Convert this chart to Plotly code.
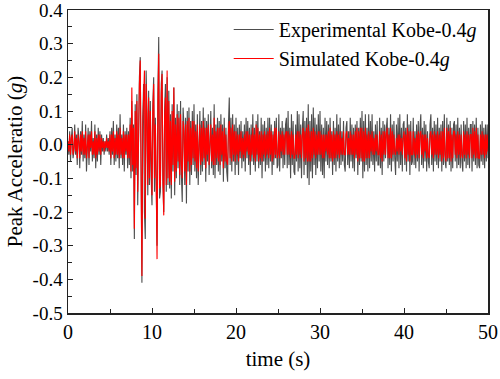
import plotly.graph_objects as go

dt = 0.1  # sampling step (s)

experimental = [
    0.01, -0.03, 0.04, -0.05, 0.02, 0.05, -0.04, -0.02, 0.06, -0.03,
    0.03, -0.06, 0.05, 0.02, -0.07, 0.04, -0.03, 0.07, -0.05, 0.03,
    -0.04, 0.06, -0.08, 0.03, 0.05, -0.06, 0.04, -0.02, 0.07, -0.05,
    0.02, -0.04, 0.06, -0.07, 0.03, -0.05, 0.05, -0.03, 0.04, -0.06,
    0.03, -0.02, 0.02, -0.03, 0.01, -0.02, 0.03, -0.02, 0.02, -0.03,
    0.04, -0.06, 0.05, -0.03, 0.07, -0.06, 0.03, -0.05, 0.06, -0.04,
    0.05, -0.07, 0.09, -0.04, 0.03, -0.06, 0.06, -0.08, 0.04, -0.03,
    0.05, -0.07, 0.04, -0.06, 0.08, -0.10, 0.13, -0.08, 0.06, -0.28,
    0.12, -0.09, 0.15, -0.18, 0.10, 0.20, 0.26, -0.15, -0.41, 0.08,
    0.18, -0.20, -0.28, 0.22, 0.10, -0.15, 0.16, -0.12, 0.13, -0.10,
    -0.18, 0.12, 0.20, -0.14, 0.08, -0.12, -0.30, 0.15, 0.32, -0.16,
    -0.14, 0.18, 0.22, -0.12, -0.20, 0.10, 0.18, -0.14, 0.20, -0.12,
    0.16, -0.13, 0.09, -0.16, 0.12, -0.08, 0.17, -0.15, 0.08, -0.10,
    0.12, -0.07, 0.10, -0.12, 0.13, -0.09, -0.17, 0.11, 0.06, -0.12,
    0.08, -0.175, 0.10, -0.08, 0.11, -0.12, 0.07, -0.09, 0.10, -0.06,
    0.12, -0.08, 0.06, -0.10, 0.09, -0.12, 0.05, 0.10, -0.09, 0.07,
    -0.08, 0.11, -0.06, 0.08, -0.11, 0.07, -0.05, 0.09, -0.09, 0.06,
    0.10, -0.07, 0.05, -0.09, 0.12, -0.10, 0.06, -0.06, 0.08, -0.08,
    0.07, -0.09, 0.09, -0.05, 0.06, -0.11, 0.08, -0.07, 0.05, -0.08,
    -0.11, 0.06, 0.14, -0.06, 0.08, -0.08, 0.09, -0.05, 0.06, -0.09,
    0.08, -0.06, 0.05, -0.09, 0.06, -0.04, 0.07, -0.07, 0.04, -0.05,
    0.06, -0.08, 0.08, -0.04, 0.07, -0.06, 0.05, -0.09, 0.06, -0.05,
    0.09, -0.06, 0.05, -0.08, 0.07, -0.05, 0.09, -0.07, 0.04, -0.06,
    0.08, -0.10, 0.06, -0.05, 0.07, -0.08, 0.05, -0.06, 0.08, -0.07,
    0.08, -0.05, 0.06, -0.09, 0.04, -0.06, 0.07, -0.04, 0.08, -0.07,
    -0.06, 0.09, -0.08, 0.05, -0.04, 0.07, -0.07, 0.05, -0.06, 0.06,
    0.08, -0.07, 0.10, -0.06, 0.05, -0.10, 0.09, -0.06, 0.07, -0.08,
    -0.09, 0.06, -0.05, 0.10, -0.08, 0.09, -0.07, 0.06, -0.10, 0.05,
    0.10, -0.09, 0.07, -0.06, 0.08, -0.10, 0.12, -0.12, 0.07, -0.08,
    0.09, -0.10, 0.11, -0.06, 0.08, -0.09, 0.06, -0.07, 0.09, -0.05,
    0.10, -0.08, 0.06, -0.09, 0.05, -0.10, 0.08, -0.05, 0.07, -0.06,
    0.06, -0.07, 0.08, -0.05, 0.04, -0.09, 0.07, -0.06, 0.05, -0.08,
    0.09, -0.05, 0.06, -0.07, 0.08, -0.06, 0.04, -0.05, 0.07, -0.06,
    -0.08, 0.05, 0.07, -0.06, 0.04, -0.07, 0.08, -0.05, 0.06, -0.07,
    0.05, -0.08, 0.06, -0.04, 0.07, -0.09, 0.05, -0.06, 0.08, -0.05,
    0.10, -0.10, 0.07, -0.08, 0.09, -0.06, 0.05, -0.08, 0.09, -0.07,
    0.07, -0.05, 0.09, -0.06, 0.04, -0.08, 0.06, -0.05, 0.07, -0.06,
    -0.06, 0.08, -0.07, 0.05, -0.09, 0.07, -0.05, 0.06, -0.04, 0.05,
    0.08, -0.07, 0.05, -0.06, 0.09, -0.08, 0.06, -0.05, 0.07, -0.04,
    -0.09, 0.06, -0.05, 0.08, -0.07, 0.09, -0.06, 0.05, -0.08, 0.06,
    0.07, -0.06, 0.05, -0.08, 0.09, -0.05, 0.06, -0.09, 0.07, -0.06,
    -0.05, 0.08, -0.06, 0.04, -0.07, 0.06, -0.05, 0.07, -0.08, 0.05,
    0.09, -0.06, 0.05, -0.07, 0.07, -0.05, 0.06, -0.08, 0.04, -0.05,
    -0.07, 0.06, 0.09, -0.06, 0.05, -0.08, 0.07, -0.05, 0.06, -0.06,
    0.08, -0.07, 0.05, -0.05, 0.06, -0.08, 0.07, -0.06, 0.09, -0.05,
    -0.07, 0.08, -0.05, 0.06, -0.06, 0.07, -0.08, 0.05, -0.07, 0.06,
    0.07, -0.05, 0.06, -0.07, 0.08, -0.06, 0.05, -0.07, 0.06, -0.05,
    -0.08, 0.07, -0.05, 0.06, -0.07, 0.08, -0.06, 0.05, -0.07, 0.06,
    0.06, -0.08, 0.07, -0.05, 0.06, -0.06, 0.08, -0.07, 0.05, -0.06,
    -0.07, 0.06, -0.05, 0.07, -0.06, 0.05, -0.07, 0.06, -0.05, 0.06,
    -0.04,
]

simulated = [
    0.01, -0.02, 0.03, -0.03, 0.02, 0.03, -0.03, -0.01, 0.04, -0.02,
    0.02, -0.04, 0.03, 0.01, -0.04, 0.03, -0.02, 0.04, -0.03, 0.02,
    -0.03, 0.04, -0.04, 0.02, 0.03, -0.04, 0.03, -0.01, 0.04, -0.03,
    0.01, -0.03, 0.04, -0.04, 0.02, -0.03, 0.03, -0.02, 0.03, -0.03,
    0.02, -0.01, 0.01, -0.02, 0.01, -0.01, 0.02, -0.01, 0.01, -0.02,
    0.03, -0.04, 0.03, -0.02, 0.04, -0.04, 0.02, -0.03, 0.04, -0.03,
    0.03, -0.04, 0.05, -0.03, 0.02, -0.04, 0.04, -0.04, 0.03, -0.02,
    0.03, -0.04, 0.03, -0.04, 0.06, -0.08, 0.17, -0.06, 0.05, -0.25,
    0.10, -0.07, 0.13, -0.14, 0.08, 0.18, 0.25, -0.12, -0.39, 0.06,
    0.15, 0.22, -0.22, 0.18, 0.08, -0.12, 0.14, -0.10, 0.10, -0.08,
    -0.15, 0.10, 0.18, -0.10, 0.06, -0.10, -0.34, 0.12, 0.27, -0.13,
    -0.12, 0.15, 0.21, -0.10, -0.21, 0.08, 0.14, -0.12, 0.22, -0.10,
    0.13, -0.11, 0.07, -0.12, 0.10, -0.06, 0.17, -0.11, 0.06, -0.08,
    0.09, -0.05, 0.08, -0.09, 0.09, -0.06, -0.10, 0.07, 0.04, -0.08,
    0.06, -0.12, 0.07, -0.05, 0.08, -0.08, 0.05, -0.06, 0.07, -0.04,
    0.07, -0.05, 0.04, -0.07, 0.06, -0.08, 0.03, 0.06, -0.06, 0.05,
    -0.05, 0.07, -0.04, 0.05, -0.07, 0.05, -0.03, 0.06, -0.06, 0.04,
    0.06, -0.05, 0.03, -0.06, 0.08, -0.06, 0.04, -0.04, 0.05, -0.05,
    0.05, -0.06, 0.06, -0.03, 0.04, -0.07, 0.05, -0.05, 0.03, -0.05,
    -0.06, 0.04, 0.07, -0.04, 0.05, -0.05, 0.06, -0.03, 0.04, -0.05,
    0.04, -0.03, 0.03, -0.05, 0.03, -0.02, 0.04, -0.04, 0.02, -0.03,
    0.03, -0.04, 0.04, -0.02, 0.04, -0.03, 0.03, -0.05, 0.03, -0.03,
    0.05, -0.04, 0.03, -0.05, 0.06, -0.03, 0.05, -0.05, 0.03, -0.04,
    0.04, -0.05, 0.03, -0.03, 0.04, -0.04, 0.03, -0.03, 0.04, -0.04,
    0.05, -0.03, 0.04, -0.05, 0.03, -0.04, 0.05, -0.03, 0.05, -0.04,
    -0.03, 0.04, -0.04, 0.03, -0.02, 0.04, -0.03, 0.03, -0.03, 0.03,
    0.04, -0.03, 0.04, -0.03, 0.03, -0.04, 0.04, -0.03, 0.03, -0.04,
    -0.04, 0.03, -0.03, 0.04, -0.04, 0.04, -0.03, 0.03, -0.04, 0.03,
    0.05, -0.05, 0.04, -0.04, 0.05, -0.05, 0.06, -0.05, 0.04, -0.05,
    0.04, -0.04, 0.05, -0.03, 0.04, -0.04, 0.03, -0.03, 0.04, -0.03,
    0.04, -0.03, 0.03, -0.04, 0.03, -0.04, 0.03, -0.02, 0.03, -0.03,
    0.04, -0.04, 0.05, -0.04, 0.03, -0.05, 0.04, -0.04, 0.03, -0.04,
    0.04, -0.03, 0.03, -0.04, 0.04, -0.03, 0.02, -0.03, 0.04, -0.03,
    -0.03, 0.03, 0.04, -0.03, 0.02, -0.03, 0.04, -0.03, 0.03, -0.03,
    0.03, -0.04, 0.04, -0.03, 0.05, -0.05, 0.04, -0.04, 0.05, -0.04,
    0.05, -0.05, 0.04, -0.05, 0.05, -0.04, 0.03, -0.04, 0.04, -0.04,
    0.03, -0.02, 0.04, -0.03, 0.02, -0.03, 0.03, -0.02, 0.03, -0.03,
    -0.03, 0.04, -0.04, 0.03, -0.05, 0.04, -0.03, 0.04, -0.03, 0.03,
    0.05, -0.04, 0.03, -0.04, 0.05, -0.04, 0.04, -0.03, 0.03, -0.02,
    -0.03, 0.02, -0.02, 0.03, -0.03, 0.03, -0.02, 0.02, -0.03, 0.02,
    0.04, -0.04, 0.03, -0.05, 0.05, -0.03, 0.04, -0.05, 0.04, -0.03,
    -0.03, 0.04, -0.03, 0.02, -0.04, 0.03, -0.03, 0.04, -0.04, 0.03,
    0.04, -0.03, 0.03, -0.04, 0.03, -0.02, 0.03, -0.04, 0.02, -0.03,
    -0.04, 0.03, 0.04, -0.03, 0.03, -0.04, 0.04, -0.03, 0.03, -0.03,
    0.04, -0.04, 0.03, -0.03, 0.04, -0.05, 0.04, -0.04, 0.05, -0.03,
    -0.05, 0.05, -0.04, 0.04, -0.04, 0.05, -0.05, 0.03, -0.04, 0.04,
    0.04, -0.03, 0.03, -0.04, 0.04, -0.03, 0.03, -0.04, 0.03, -0.03,
    -0.04, 0.04, -0.03, 0.03, -0.04, 0.04, -0.03, 0.03, -0.04, 0.03,
    0.03, -0.04, 0.05, -0.03, 0.04, -0.04, 0.05, -0.04, 0.03, -0.04,
    -0.04, 0.03, -0.03, 0.04, -0.03, 0.03, -0.04, 0.03, -0.03, 0.03,
    -0.02,
]

time_exp = [round(i * dt, 3) for i in range(len(experimental))]
time_sim = [round(i * dt, 3) for i in range(len(simulated))]

x_ticks = [0, 10, 20, 30, 40, 50]
x_tick_text = ["0", "10", "20", "30", "40", "50"]
y_ticks = [-0.5, -0.4, -0.3, -0.2, -0.1, 0.0, 0.1, 0.2, 0.3, 0.4]
y_tick_text = ["-0.5", "-0.4", "-0.3", "-0.2", "-0.1", "0.0", "0.1", "0.2", "0.3", "0.4"]

FONT = "Liberation Serif, Times New Roman, serif"

fig = go.Figure()
fig.add_trace(go.Scatter(
    x=time_exp, y=experimental, mode="lines",
    name="Experimental Kobe-0.4<i>g</i>",
    line=dict(color="#4d4d4d", width=1.1),
))
fig.add_trace(go.Scatter(
    x=time_sim, y=simulated, mode="lines",
    name="Simulated Kobe-0.4<i>g</i>",
    line=dict(color="#ff0000", width=1.1),
))

axis_common = dict(
    showgrid=False, zeroline=False, automargin=False,
    showline=True, linecolor="#222222", linewidth=1.5, mirror=True,
    ticks="inside", ticklen=5, tickwidth=1, tickcolor="#222222",
    ticklabeloverflow="allow",
)

fig.update_layout(
    width=500, height=379,
    margin=dict(l=68, r=12, t=10, b=66),
    paper_bgcolor="white", plot_bgcolor="white",
    font=dict(family=FONT, color="#000000", size=20),
    showlegend=True,
    hovermode=False,
    legend=dict(
        x=0.985, y=1.0, xanchor="right", yanchor="top",
        bgcolor="rgba(0,0,0,0)", borderwidth=0,
        font=dict(family=FONT, size=20, color="#000000"),
        tracegroupgap=0, itemwidth=40,
    ),
    xaxis=dict(
        range=[0, 50], tickvals=x_ticks, ticktext=x_tick_text,
        minor=dict(dtick=5, ticks="inside", ticklen=4, tickcolor="#222222"),
        title=dict(text="time (s)", font=dict(size=21), standoff=10),
        tickfont=dict(size=20),
        **axis_common,
    ),
    yaxis=dict(
        range=[-0.5, 0.4], tickvals=y_ticks, ticktext=y_tick_text,
        minor=dict(dtick=0.05, ticks="inside", ticklen=4, tickcolor="#222222"),
        title=dict(text="Peak Acceleratio (<i>g</i>)", font=dict(size=21), standoff=4),
        tickfont=dict(size=19),
        **axis_common,
    ),
)

fig.write_html(
    "out.html",
    config={"displayModeBar": False, "staticPlot": True},
    post_script="document.body.style.margin='0';document.body.style.overflow='hidden';",
)
